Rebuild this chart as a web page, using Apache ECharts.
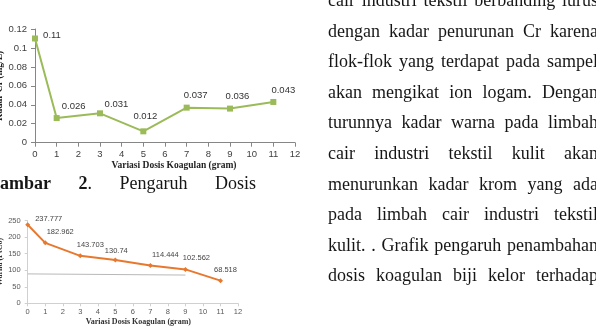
<!DOCTYPE html>
<html>
<head>
<meta charset="UTF-8">
<title>Pengaruh Dosis Koagulan</title>
<script src="https://cdn.jsdelivr.net/npm/echarts@6/dist/echarts.min.js"></script>
<style>
html, body { margin:0; padding:0; background:#fff; width:596px; height:331px; overflow:hidden; }
#main { position:absolute; left:0; top:0; width:596px; height:331px; }
.doc { position:absolute; font-family:"Liberation Serif", serif; font-size:18px; color:#161616; }
.doc div { height:30.6px; line-height:30.6px; text-align:justify; text-align-last:justify; }
</style>
</head>
<body>
<div id="main"></div>

<div class="doc" style="left:0; top:168px; width:256px;">
	<div><b>ambar</b> <b>2</b>. Pengaruh Dosis</div>
</div>

<div class="doc" style="left:328px; top:-15px; width:270px;">
	<div>cair industri tekstil berbanding lurus</div>
	<div>dengan kadar penurunan Cr karena</div>
	<div>flok-flok yang terdapat pada sampel</div>
	<div>akan mengikat ion logam. Dengan</div>
	<div>turunnya kadar warna pada limbah</div>
	<div>cair industri tekstil kulit akan</div>
	<div>menurunkan kadar krom yang ada</div>
	<div>pada limbah cair industri tekstil</div>
	<div>kulit. . Grafik pengaruh penambahan</div>
	<div>dosis koagulan biji kelor terhadap</div>
</div>

<script>
// data
var dosis = [0, 1, 3, 5, 7, 9, 11];
var kadarCr = [0.11, 0.026, 0.031, 0.012, 0.037, 0.036, 0.043];
var warna = [237.777, 182.962, 143.703, 130.74, 114.444, 102.562, 68.518];
var garisDosis = [0, 9];
var garisWarna = [89, 85.5];

// geser label (gaya saja)
var geserCr = [[17, 10], [17, 1.5], [16.5, 4], [2, -2], [9, 1], [7.5, 1], [10, 1.5]];
var geserWarna = [[21, 6], [15, 1], [10, 1], [1, 2], [15, 1], [11, 0], [5, 1]];

var judulX = 'Variasi Dosis Koagulan (gram)';

var myChart = echarts.init(document.getElementById('main'));

function titik(xs, ys, geser) {
	var out = [];
	for (var i = 0; i < xs.length; i++) {
		var d = { value: [xs[i], ys[i]] };
		if (geser) d.label = { offset: geser[i] };
		out.push(d);
	}
	return out;
}

option = {
	backgroundColor: '#ffffff',
	animation: false,
	grid: [
		{ left: 35, top: 29, width: 260, height: 113.7, outerBoundsMode: 'none', containLabel: false },
		{ left: 27.7, top: 220.7, width: 210.3, height: 82.6, outerBoundsMode: 'none', containLabel: false }
	],
	xAxis: [{
		gridIndex: 0, type: 'value', min: 0, max: 12, interval: 1,
		splitLine: { show: false },
		axisLine: { lineStyle: { color: '#868686' } },
		axisTick: { length: 4, lineStyle: { color: '#868686' } },
		axisLabel: { margin: 7, color: '#404040', fontSize: 9.5, fontFamily: 'Liberation Sans' },
		name: judulX, nameLocation: 'middle', nameGap: 16,
		nameTextStyle: { fontFamily: 'Liberation Serif', fontWeight: 'bold', fontSize: 9.5, color: '#222', padding: [0, 0, 0, 18] }
	}, {
		gridIndex: 1, type: 'value', min: 0, max: 12, interval: 1,
		splitLine: { show: false },
		axisLine: { lineStyle: { color: '#d0d0d0' } },
		axisTick: { length: 3, lineStyle: { color: '#d0d0d0' } },
		axisLabel: { margin: 5, color: '#595959', fontSize: 7.5, fontFamily: 'Liberation Sans' },
		name: judulX, nameLocation: 'middle', nameGap: 15,
		nameTextStyle: { fontFamily: 'Liberation Serif', fontWeight: 'bold', fontSize: 8, color: '#333', padding: [0, 0, 0, 11] }
	}],
	yAxis: [{
		gridIndex: 0, type: 'value', min: 0, max: 0.12, interval: 0.02,
		splitLine: { show: false },
		axisLine: { show: true, lineStyle: { color: '#868686' } },
		axisTick: { show: true, length: 4, lineStyle: { color: '#868686' } },
		axisLabel: { margin: 8, color: '#404040', fontSize: 9.5, fontFamily: 'Liberation Sans' },
		name: 'Kadar Cr (mg/L)', nameLocation: 'middle', nameGap: 29,
		nameTextStyle: { fontFamily: 'Liberation Serif', fontWeight: 'bold', fontSize: 9.5, color: '#222' }
	}, {
		gridIndex: 1, type: 'value', min: 0, max: 250, interval: 50,
		splitLine: { show: false },
		axisLine: { show: true, lineStyle: { color: '#d0d0d0' } },
		axisTick: { show: true, length: 3, lineStyle: { color: '#d0d0d0' } },
		axisLabel: { margin: 7, color: '#595959', fontSize: 7.5, fontFamily: 'Liberation Sans' },
		name: 'Warna (PtCo)', nameLocation: 'middle', nameGap: 22,
		nameTextStyle: { fontFamily: 'Liberation Serif', fontWeight: 'bold', fontSize: 8, color: '#333' }
	}],
	series: [{
		name: 'Kadar Cr',
		type: 'line',
		xAxisIndex: 0, yAxisIndex: 0,
		data: titik(dosis, kadarCr, geserCr),
		symbol: 'rect', symbolSize: 6, showAllSymbol: true,
		lineStyle: { color: '#9bbb59', width: 2 },
		itemStyle: { color: '#9bbb59' },
		label: {
			show: true, position: 'top', distance: 5,
			fontSize: 9.5, fontFamily: 'Liberation Sans', color: '#333',
			formatter: function (p) { return p.value[1]; }
		}
	}, {
		name: 'Baku',
		type: 'line',
		xAxisIndex: 1, yAxisIndex: 1,
		data: titik(garisDosis, garisWarna),
		symbol: 'none',
		lineStyle: { color: '#b8b8b8', width: 1 },
		z: 1
	}, {
		name: 'Warna',
		type: 'line',
		xAxisIndex: 1, yAxisIndex: 1,
		data: titik(dosis, warna, geserWarna),
		symbol: 'diamond', symbolSize: 5, showAllSymbol: true,
		lineStyle: { color: '#e8782e', width: 2 },
		itemStyle: { color: '#e8782e' },
		label: {
			show: true, position: 'top', distance: 5,
			fontSize: 7.5, fontFamily: 'Liberation Sans', color: '#444',
			formatter: function (p) { return p.value[1]; }
		}
	}]
};
myChart.setOption(option);
</script>
</body>
</html>
